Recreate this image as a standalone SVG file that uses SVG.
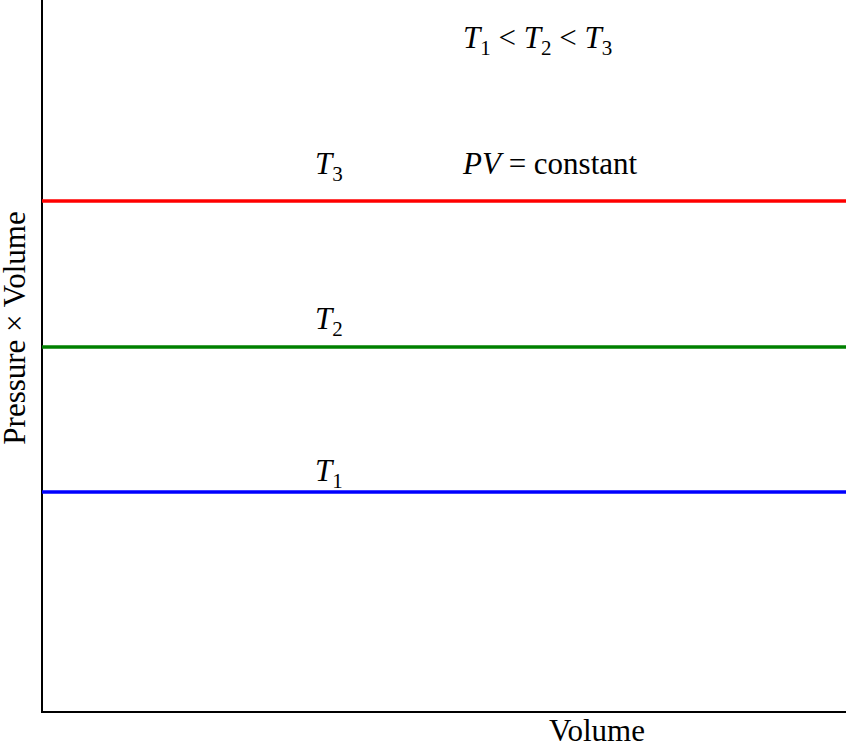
<svg xmlns="http://www.w3.org/2000/svg" width="846" height="745" viewBox="0 0 846 745">
<style>
text{font-family:"Liberation Serif","DejaVu Serif",serif;font-size:31px;fill:#000}
.i{font-style:italic}
.s{font-size:21px;font-style:normal}
.ax{stroke:#000;stroke-width:2;fill:none}
</style>
<rect width="846" height="745" fill="#fff"/>
<g id="axes">
<path class="ax" d="M42,0 V712 H846"/>
<text x="597" y="741" text-anchor="middle">Volume</text>
<text transform="translate(25,328) rotate(-90)" text-anchor="middle">Pressure × Volume</text>
</g>
<g id="lines">
<line x1="42" y1="201" x2="846" y2="201" stroke="#ff0000" stroke-width="3.5"/>
<line x1="42" y1="347" x2="846" y2="347" stroke="#008000" stroke-width="3.5"/>
<line x1="42" y1="492" x2="846" y2="492" stroke="#0000ff" stroke-width="3.5"/>
</g>
<g id="labels">
<text x="463" y="48"><tspan class="i">T</tspan><tspan class="s" dy="7">1</tspan><tspan dy="-7"> &lt; </tspan><tspan class="i">T</tspan><tspan class="s" dy="7">2</tspan><tspan dy="-7"> &lt; </tspan><tspan class="i">T</tspan><tspan class="s" dy="7">3</tspan></text>
<text x="315" y="174"><tspan class="i">T</tspan><tspan class="s" dy="7">3</tspan></text>
<text x="463" y="174"><tspan class="i">PV</tspan> = constant</text>
<text x="315" y="329"><tspan class="i">T</tspan><tspan class="s" dy="7">2</tspan></text>
<text x="315" y="481"><tspan class="i">T</tspan><tspan class="s" dy="7">1</tspan></text>
</g>
</svg>
